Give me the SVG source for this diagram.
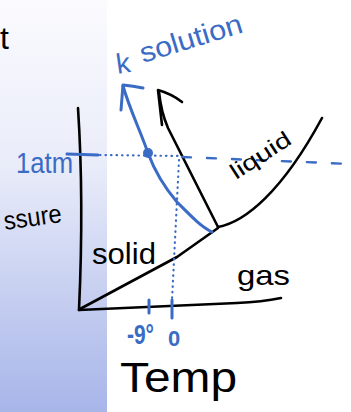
<svg xmlns="http://www.w3.org/2000/svg" width="351" height="412" viewBox="0 0 351 412">
<defs>
<linearGradient id="panel" x1="0" y1="0" x2="0" y2="1">
<stop offset="0" stop-color="#fbfbfe"/>
<stop offset="0.4" stop-color="#e9ecf9"/>
<stop offset="1" stop-color="#a7b5e9"/>
</linearGradient>
</defs>
<style>
.k{fill:none;stroke:#000;stroke-width:2.6;stroke-linecap:round;stroke-linejoin:round}
.b{fill:none;stroke:#3a6bc5;stroke-width:3;stroke-linecap:round;stroke-linejoin:round}
.dot{fill:none;stroke:#3a6bc5;stroke-width:2.2;stroke-linecap:round;stroke-dasharray:0.5 5}
.dash{fill:none;stroke:#3a6bc5;stroke-width:2.4;stroke-linecap:round;stroke-dasharray:9 16}
.tk{font-family:"Liberation Sans",Arial,sans-serif;fill:#000}
.tb{font-family:"Liberation Sans",Arial,sans-serif;fill:#3a6bc5}
</style>
<rect x="0" y="0" width="351" height="412" fill="#fff"/>
<rect x="0" y="0" width="107" height="412" fill="url(#panel)"/>
<text class="tk" x="0" y="49" font-size="32">t</text>
<text class="tk" x="4" y="226" font-size="26" textLength="58" lengthAdjust="spacingAndGlyphs" transform="rotate(-8 33 220)">ssure</text>

<g id="axes">
<path class="k" d="M78,108 Q84,200 79,310"/>
<path class="k" d="M79,310 L237,303 Q262,302 281,298"/>
</g>

<g id="connectors">
<path class="k" d="M80,309 L177,257 L218,228"/>
<path class="k" d="M218,227 C245,222 282,192 322,118"/>
<path class="k" d="M218,227 L168,128 Q161,112 159,92"/>
<path class="k" d="M162,125 L158,90 Q172,94 182,102"/>
<path class="dot" d="M100,155 L180,156"/>
<path class="dash" d="M182,157 L351,164"/>
<path class="b" d="M67,154 L98,155"/>
<path class="dot" d="M179,160 L172,300"/>
<path class="b" d="M212,232 C200,226 190,215 177,202 C165,188 155,172 148,153 C140,130 130,110 123,86"/>
<path class="b" d="M121,110 L123,85 Q133,86 143,88"/>
<circle cx="148" cy="153" r="5" fill="#3a6bc5"/>
<path class="b" d="M149,300 L149,313"/>
<path class="b" d="M172,300 L172,318"/>
</g>

<g id="label-solution">
<text class="tb" x="116" y="73" font-size="28" transform="rotate(-8 122 62)">k</text>
<text class="tb" x="143" y="63" font-size="28" textLength="106" lengthAdjust="spacingAndGlyphs" transform="rotate(-17 143 63)">solution</text>
</g>
<g id="label-1atm"><text class="tb" x="16" y="173" font-size="30" textLength="57" lengthAdjust="spacingAndGlyphs">1atm</text></g>
<g id="label-liquid"><text class="tk" x="236" y="180" font-size="22" textLength="68" lengthAdjust="spacingAndGlyphs" transform="rotate(-33 236 180)">liquid</text></g>
<g id="label-solid"><text class="tk" x="92" y="264" font-size="30" textLength="64" lengthAdjust="spacingAndGlyphs">solid</text></g>
<g id="label-gas"><text class="tk" x="237" y="285" font-size="28" textLength="53" lengthAdjust="spacingAndGlyphs">gas</text></g>
<g id="label-m9"><text class="tb" x="127" y="344" font-size="28" font-weight="bold" textLength="27" lengthAdjust="spacingAndGlyphs">-9°</text></g>
<g id="label-0"><text class="tb" x="168" y="346" font-size="22" font-weight="bold">0</text></g>
<g id="label-temp"><text class="tk" x="120" y="392" font-size="42" textLength="117" lengthAdjust="spacingAndGlyphs">Temp</text></g>
</svg>
